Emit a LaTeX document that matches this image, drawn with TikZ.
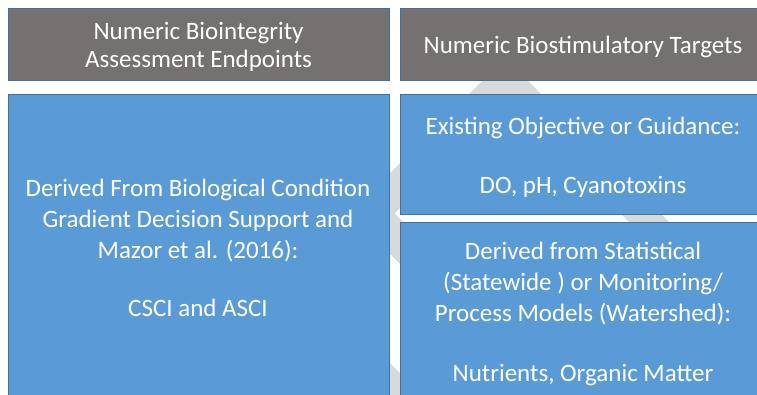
\documentclass[tikz,border=0pt]{standalone}
\usepackage{fontspec}
\setmainfont{Carlito}
\definecolor{hdrfill}{HTML}{767171}
\definecolor{boxfill}{HTML}{5B9BD5}
\definecolor{boxline}{HTML}{41719C}
\definecolor{bggray}{HTML}{D9D9D9}
\begin{document}
\begin{tikzpicture}[x=1pt,y=-1pt,
  hdr/.style={draw=boxline, line width=1pt, fill=hdrfill, rectangle, anchor=north west, inner sep=0pt},
  bluebox/.style={draw=boxline, line width=1pt, fill=boxfill, rectangle, anchor=north west, inner sep=0pt},
  hdrtxt/.style={text=white, font=\fontsize{25}{28}\selectfont, align=center, inner sep=0pt},
  bodytxt/.style={text=white, font=\fontsize{25}{31}\selectfont, align=center, inner sep=0pt}]
\clip (0,0) rectangle (757,394);
\fill[white] (0,0) rectangle (757,394);
% background gray frame shape
\fill[bggray, even odd rule] (505,58) -- (349.5,213.5) -- (568,432) -- (723.5,276.5) -- cycle
  (507.5,100.5) -- (394.5,213.5) -- (568,387) -- (681,274) -- cycle;
\fill[bggray] (360,333) -- (440,413) -- (360,413) -- cycle;
% boxes
\node[hdr, minimum width=381pt, minimum height=72pt] (h1) at (8,8) {};
\node[hdr, minimum width=366pt, minimum height=72pt] (h2) at (400,8) {};
\node[bluebox, minimum width=381pt, minimum height=330pt] (b1) at (8,94) {};
\node[bluebox, minimum width=366pt, minimum height=120pt] (b2) at (400,94) {};
\node[bluebox, minimum width=366pt, minimum height=200pt] (b3) at (400,222) {};
% texts
\node[hdrtxt] (t1) at (198.5,46.5) {Numeric Biointegrity\\Assessment Endpoints};
\node[hdrtxt] (t2) at (583,46.5) {Numeric Biostimulatory Targets};
\node[bodytxt] (t3) at (198,247.5) {Derived From Biological Condition\\Gradient Decision Support and\\Mazor et al. (2016):\\[27pt]CSCI and ASCI};
\node[bodytxt] (t4) at (583,157.5) {Existing Objective or Guidance:\\[28pt]DO, pH, Cyanotoxins};
\node[bodytxt] (t5) at (583,313.5) {Derived from Statistical\\(Statewide ) or Monitoring/\\Process Models (Watershed):\\[29pt]Nutrients, Organic Matter};
\end{tikzpicture}
\end{document}
